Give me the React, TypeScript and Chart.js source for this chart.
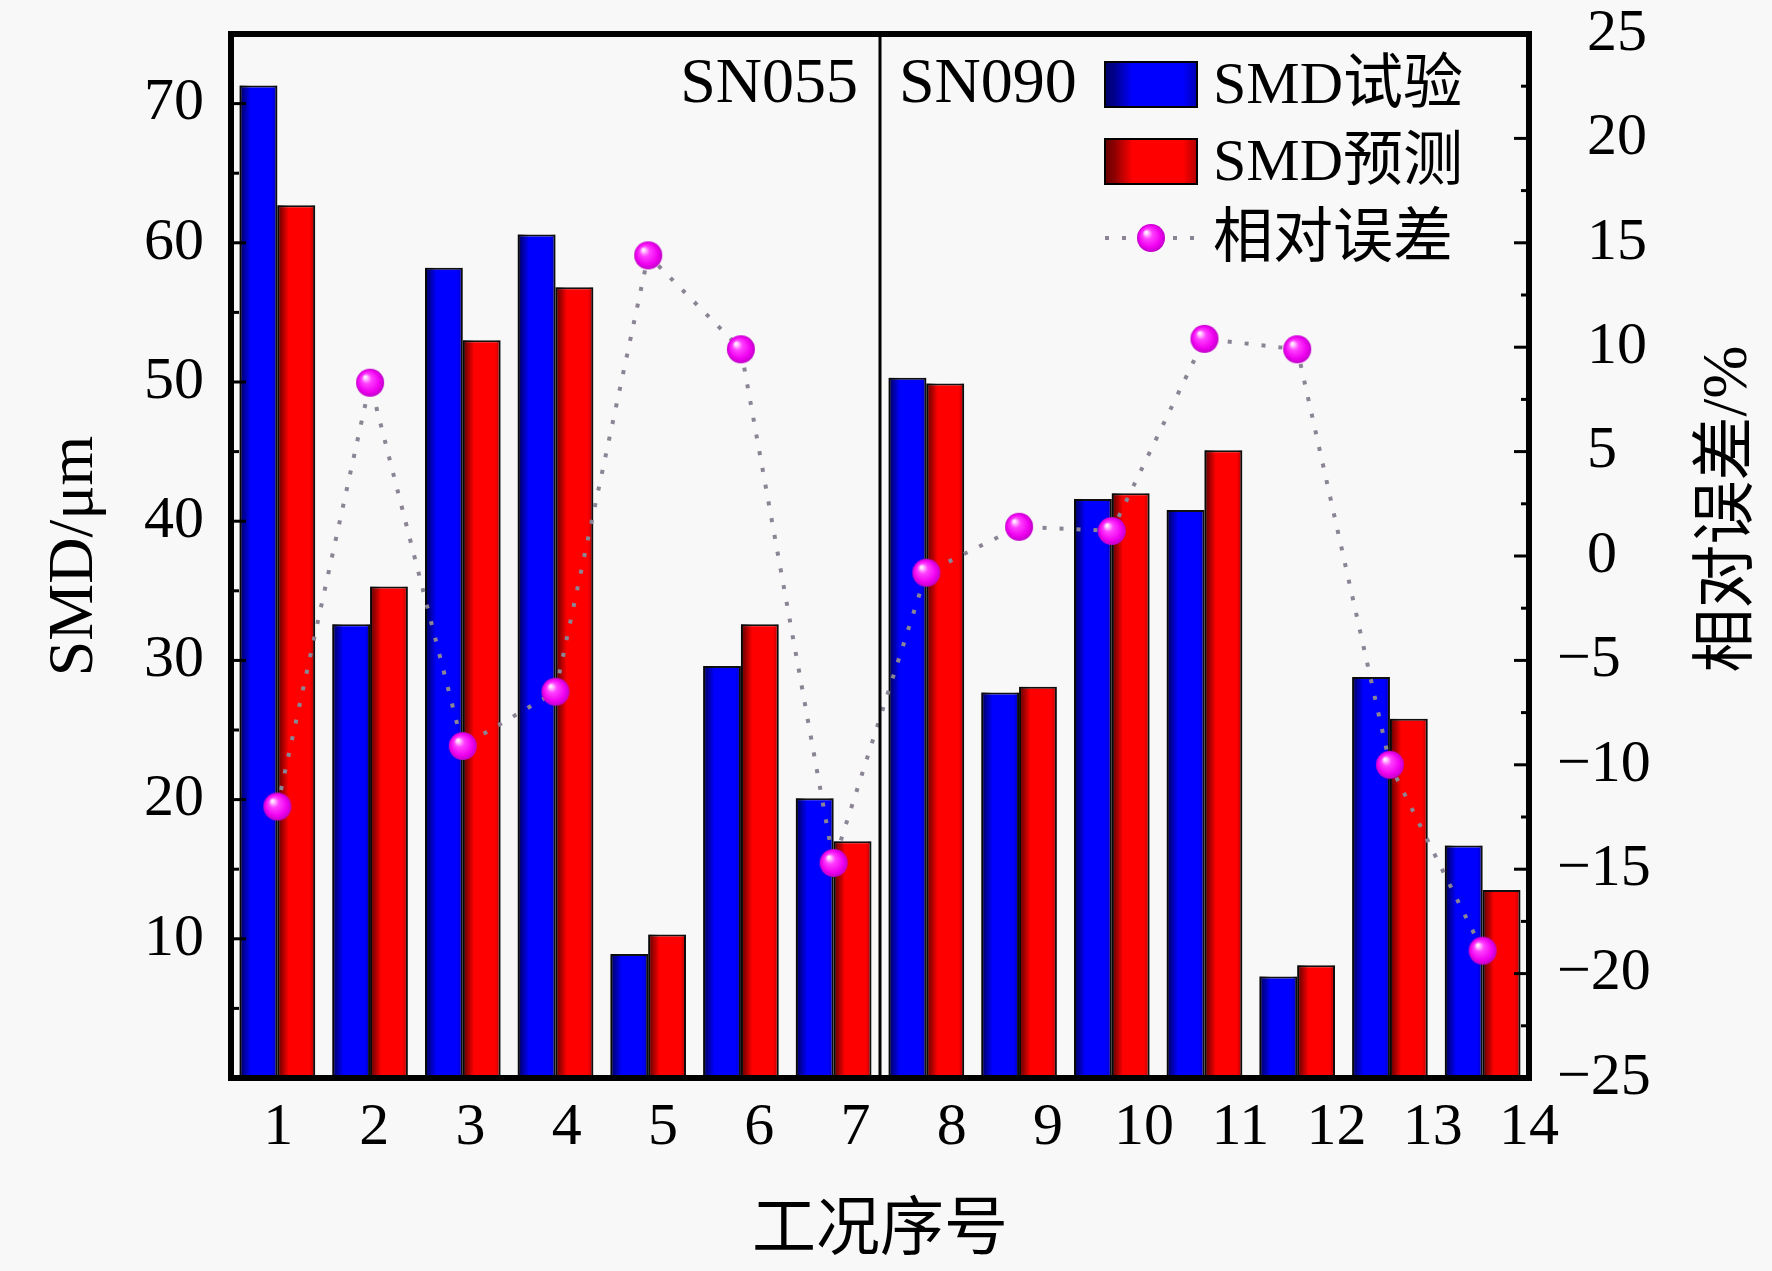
import { useEffect, useRef } from "react";
import { Chart, registerables } from "chart.js";

Chart.register(...registerables);

// 工况序号 1..14 (SN055: 1-7, SN090: 8-14)
const categories = ["1", "2", "3", "4", "5", "6", "7", "8", "9", "10", "11", "12", "13", "14"];
const smdTest = [71.3, 32.6, 58.2, 60.6, 8.9, 29.6, 20.1, 50.3, 27.7, 41.6, 40.8, 7.3, 28.8, 16.7];
const smdPred = [62.7, 35.3, 53.0, 56.8, 10.3, 32.6, 17.0, 49.9, 28.1, 42.0, 45.1, 8.1, 25.8, 13.5];
const relError = [-12.0, 8.3, -9.1, -6.5, 14.4, 9.9, -14.7, -0.8, 1.4, 1.2, 10.4, 9.9, -10.0, -18.9];

const xTickValues = [1, 2, 3, 4, 5, 6, 7, 8, 9, 10, 11, 12, 13, 14];
const leftTickValues = [10, 20, 30, 40, 50, 60, 70];
const leftMinorTicks = [5, 15, 25, 35, 45, 55, 65];
const rightTickValues = [-25, -20, -15, -10, -5, 0, 5, 10, 15, 20, 25];
const rightMinorTicks = [-22.5, -17.5, -12.5, -7.5, -2.5, 2.5, 7.5, 12.5, 17.5, 22.5];

const groupLabels = ["SN055", "SN090"];

const FONT = "'Liberation Serif', 'Times New Roman', 'Noto Sans CJK SC', serif";
const BLUE = "#0000ff";
const RED = "#ff0000";
const DOT_LINE = "#8a8494";

function makeSphere(r: number) {
  const c = document.createElement("canvas");
  c.width = c.height = r * 2 + 2;
  const g = c.getContext("2d")!;
  const cx = r + 1;
  const grad = g.createRadialGradient(cx - r * 0.35, cx - r * 0.4, r * 0.08, cx, cx, r);
  grad.addColorStop(0, "#ffe8ff");
  grad.addColorStop(0.3, "#ff40ff");
  grad.addColorStop(0.75, "#f000f0");
  grad.addColorStop(1, "#c000c8");
  g.fillStyle = grad;
  g.beginPath();
  g.arc(cx, cx, r, 0, Math.PI * 2);
  g.fill();
  return c;
}

function shade(ctx: CanvasRenderingContext2D, left: number, top: number, w: number, h: number) {
  const g = ctx.createLinearGradient(left, 0, left + w, 0);
  g.addColorStop(0, "rgba(0,0,0,0.6)");
  g.addColorStop(0.1, "rgba(0,0,0,0.45)");
  g.addColorStop(0.3, "rgba(0,0,0,0)");
  g.addColorStop(0.85, "rgba(0,0,0,0)");
  g.addColorStop(1, "rgba(0,0,0,0.3)");
  ctx.fillStyle = g;
  ctx.fillRect(left, top, w, h);
}

// darker band on the left of each bar, drawn before the line dataset
const barShade = {
  id: "barShade",
  afterDatasetDraw(chart: any, args: any) {
    const meta = args.meta;
    if (meta.type !== "bar") return;
    const ctx = chart.ctx;
    ctx.save();
    meta.data.forEach((el: any) => {
      const { x, y, base, width } = el.getProps(["x", "y", "base", "width"], true);
      shade(ctx, x - width / 2, y, width, base - y);
    });
    ctx.restore();
  },
};

const decorations = {
  id: "decorations",
  afterDraw(chart: any) {
    const { ctx, chartArea: a, scales } = chart;
    const sphere = chart.$sphere;
    ctx.save();

    // inward ticks
    ctx.strokeStyle = "#000";
    ctx.lineWidth = 3;
    const tick = (x1: number, x2: number, y: number) => {
      ctx.beginPath();
      ctx.moveTo(x1, y);
      ctx.lineTo(x2, y);
      ctx.stroke();
    };
    leftTickValues.forEach((v) => tick(a.left, a.left + 15, scales.y.getPixelForValue(v)));
    leftMinorTicks.forEach((v) => tick(a.left, a.left + 8, scales.y.getPixelForValue(v)));
    rightTickValues.forEach((v) => tick(a.right, a.right - 15, scales.y1.getPixelForValue(v)));
    rightMinorTicks.forEach((v) => tick(a.right, a.right - 8, scales.y1.getPixelForValue(v)));

    // divider between SN055 and SN090
    const divX = (scales.x.getPixelForValue(6) + scales.x.getPixelForValue(7)) / 2;
    ctx.lineWidth = 3;
    ctx.beginPath();
    ctx.moveTo(divX, a.top);
    ctx.lineTo(divX, a.bottom);
    ctx.stroke();

    // frame
    ctx.lineWidth = 6;
    ctx.strokeRect(a.left, a.top, a.right - a.left, a.bottom - a.top);

    // group labels
    ctx.fillStyle = "#000";
    ctx.font = `64px ${FONT}`;
    ctx.textBaseline = "alphabetic";
    ctx.textAlign = "right";
    ctx.fillText(groupLabels[0], divX - 22, a.top + 68);
    ctx.textAlign = "left";
    ctx.fillText(groupLabels[1], divX + 19, a.top + 68);

    // legend
    const ds = chart.data.datasets;
    const sx = a.right - 424;
    const tx = a.right - 316;
    ctx.font = `60px ${FONT}`;
    [0, 1].forEach((i) => {
      const top = a.top + 28 + i * 77;
      ctx.fillStyle = ds[i].backgroundColor;
      ctx.fillRect(sx, top, 92, 45);
      shade(ctx, sx, top, 92, 45);
      ctx.strokeStyle = "#000";
      ctx.lineWidth = 2;
      ctx.strokeRect(sx, top, 92, 45);
      ctx.fillStyle = "#000";
      ctx.fillText(ds[i].label, tx, a.top + 69 + i * 77);
    });
    const ly = a.top + 204;
    ctx.strokeStyle = DOT_LINE;
    ctx.lineWidth = 4;
    ctx.setLineDash([4, 13]);
    ctx.beginPath();
    ctx.moveTo(sx, ly);
    ctx.lineTo(sx + 92, ly);
    ctx.stroke();
    ctx.setLineDash([]);
    if (sphere) ctx.drawImage(sphere, sx + 46 - sphere.width / 2, ly - sphere.height / 2);
    ctx.fillStyle = "#000";
    ctx.fillText(ds[2].label, tx, a.top + 223);

    // right axis title, reading bottom to top
    ctx.save();
    ctx.translate(a.right + 200, (a.top + a.bottom) / 2 - 47);
    ctx.rotate(-Math.PI / 2);
    ctx.font = `64px ${FONT}`;
    ctx.textAlign = "center";
    ctx.textBaseline = "middle";
    ctx.fillText("相对误差/%", 0, 0);
    ctx.restore();

    ctx.restore();
  },
};

const noPad = (s: any) => {
  s.paddingTop = 0;
  s.paddingBottom = 0;
  s.paddingLeft = 0;
  s.paddingRight = 0;
};

export default function App() {
  const canvasRef = useRef<HTMLCanvasElement>(null);

  useEffect(() => {
    document.body.style.margin = "0";
    if (!canvasRef.current) return;
    const sphere = makeSphere(14);
    const tickFont = { family: FONT, size: 60, lineHeight: 1 };
    const titleFont = { family: FONT, size: 64, lineHeight: 1.2 };

    const chart = new Chart(canvasRef.current, {
      type: "bar",
      data: {
        labels: categories,
        datasets: [
          {
            label: "SMD试验",
            data: smdTest,
            backgroundColor: BLUE,
            borderColor: "#111",
            borderWidth: 2,
            xAxisID: "x",
            yAxisID: "y",
            order: 1,
            categoryPercentage: 0.815,
            barPercentage: 1,
          },
          {
            label: "SMD预测",
            data: smdPred,
            backgroundColor: RED,
            borderColor: "#111",
            borderWidth: 2,
            xAxisID: "x",
            yAxisID: "y",
            order: 1,
            categoryPercentage: 0.815,
            barPercentage: 1,
          },
          {
            type: "line",
            label: "相对误差",
            data: relError,
            xAxisID: "x",
            yAxisID: "y1",
            borderColor: DOT_LINE,
            borderWidth: 4,
            borderDash: [4, 13],
            fill: false,
            tension: 0,
            pointStyle: sphere,
            pointRadius: 14,
            order: 0,
          } as any,
        ],
      },
      options: {
        responsive: false,
        animation: false,
        devicePixelRatio: 1,
        layout: { padding: { top: 34, left: 0, right: 0, bottom: 0 } },
        plugins: { legend: { display: false }, tooltip: { enabled: false } },
        scales: {
          x: { type: "category", display: false, offset: true, grid: { display: false } },
          xl: {
            type: "linear",
            position: "bottom",
            min: 0.51,
            max: 14,
            offset: false,
            afterBuildTicks: (axis: any) => {
              axis.ticks = xTickValues.map((value) => ({ value }));
            },
            afterFit: (s: any) => {
              s.height = 193;
              noPad(s);
            },
            ticks: {
              font: tickFont,
              color: "#000",
              padding: 20,
              autoSkip: false,
              maxRotation: 0,
              callback: (v: any) => String(v),
            },
            grid: { display: false, drawTicks: false, offset: false },
            border: { display: false },
            title: {
              display: true,
              text: "工况序号",
              font: titleFont,
              color: "#000",
              padding: { top: 0, bottom: 0 },
            },
          },
          y: {
            type: "linear",
            position: "left",
            min: 0,
            max: 75,
            afterBuildTicks: (axis: any) => {
              axis.ticks = leftTickValues.map((value) => ({ value }));
            },
            afterFit: (s: any) => {
              s.width = 231;
              noPad(s);
            },
            ticks: { font: tickFont, color: "#000", padding: 27 },
            grid: { display: false, drawTicks: false },
            border: { display: false },
            title: {
              display: true,
              text: "SMD/μm",
              font: titleFont,
              color: "#000",
              padding: { top: 37, bottom: 0 },
            },
          },
          y1: {
            type: "linear",
            position: "right",
            min: -25,
            max: 25,
            afterBuildTicks: (axis: any) => {
              axis.ticks = rightTickValues.map((value) => ({ value }));
            },
            afterFit: (s: any) => {
              s.width = 243;
              noPad(s);
            },
            ticks: {
              font: tickFont,
              color: "#000",
              padding: 28,
              callback: (v: any) => (v < 0 ? "−" + Math.abs(v) : "\u2007" + v),
            },
            grid: { display: false, drawTicks: false },
            border: { display: false },
          },
        },
      },
      plugins: [barShade, decorations],
    });
    (chart as any).$sphere = sphere;
    chart.draw();

    return () => chart.destroy();
  }, []);

  return (
    <div style={{ width: 1772, height: 1271, background: "#f8f8f8" }}>
      <canvas ref={canvasRef} width={1772} height={1271} style={{ display: "block" }} />
    </div>
  );
}
